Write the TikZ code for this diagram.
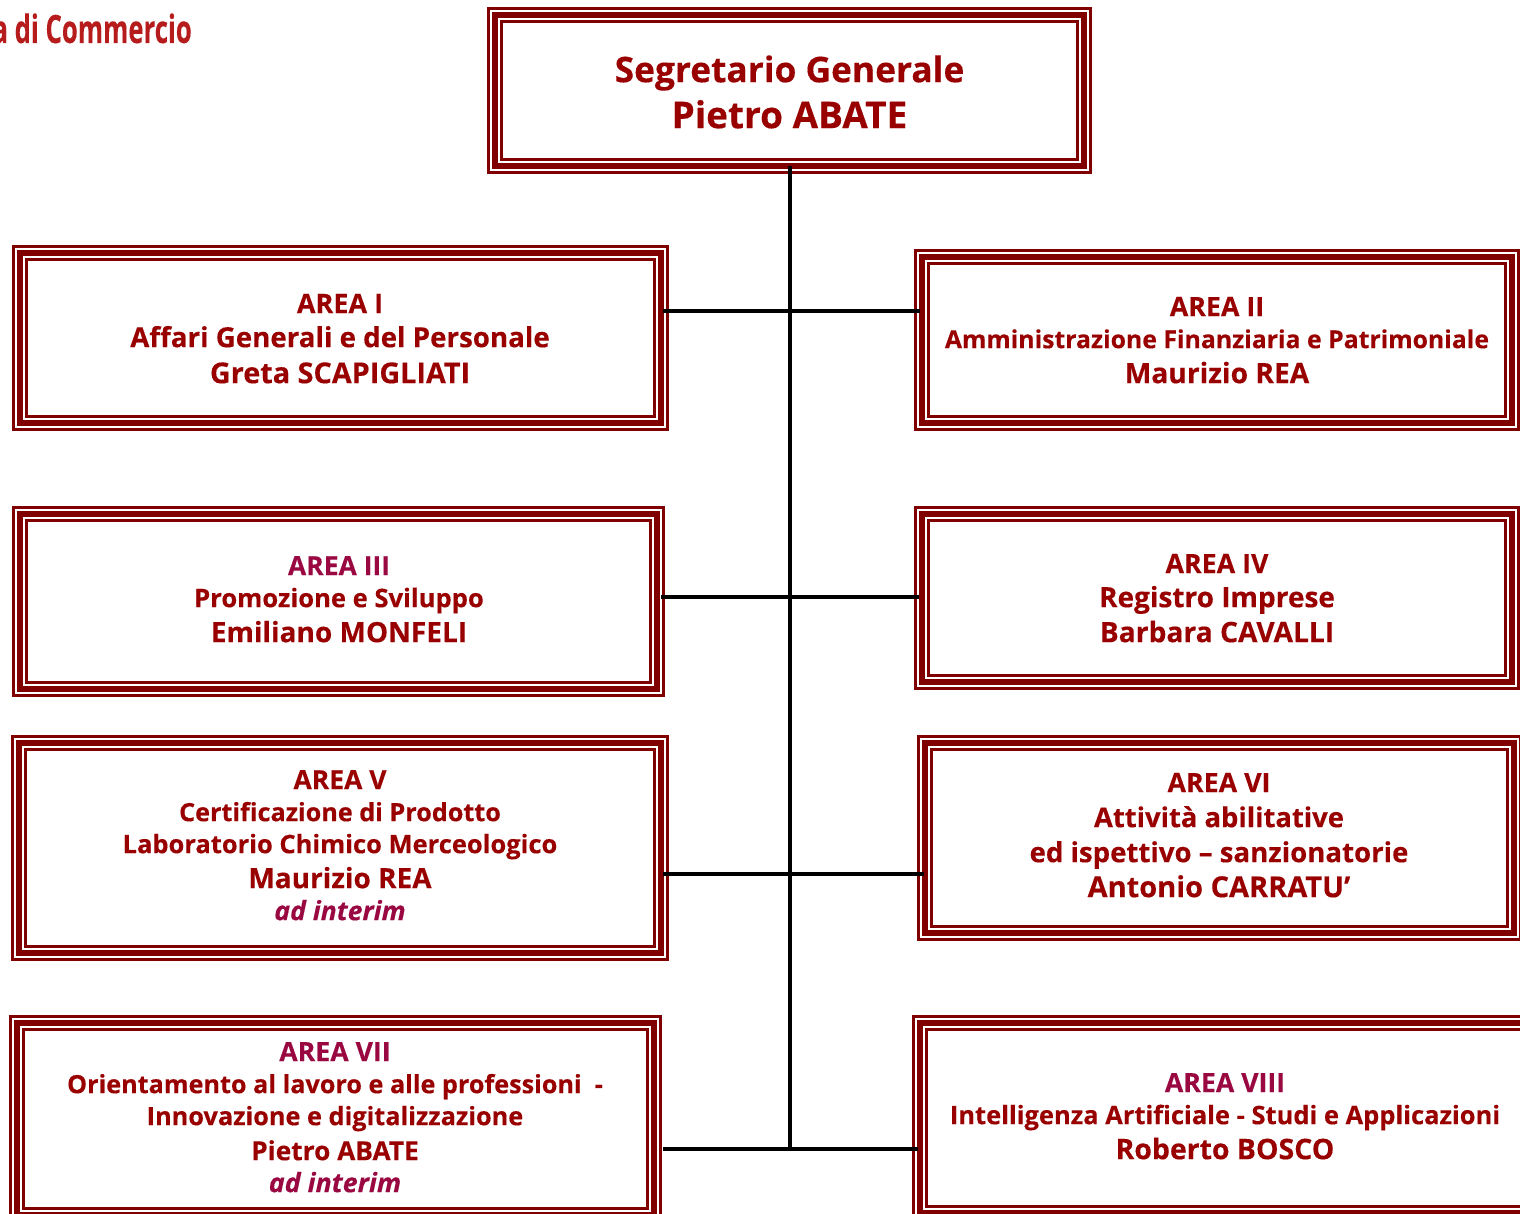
\documentclass[tikz,border=0pt]{standalone}
\usepackage{fontspec}
\setmainfont{Open Sans}[BoldFeatures={FakeBold=0.25},BoldItalicFeatures={FakeBold=0.25}]
\definecolor{frm}{HTML}{800000}
\definecolor{ink}{HTML}{990000}
\definecolor{plum}{HTML}{990840}
\definecolor{logo}{HTML}{B71C1C}
\tikzset{
  frameshape/.style={rectangle,inner sep=0pt,outer sep=0pt},
  ringthin/.style={draw=frm,line width=2.7pt},
  ringthick/.style={draw=frm,line width=5.6pt},
  wire/.style={draw=black,line width=4pt},
  txt/.style={anchor=north,inner sep=0pt,font=\bfseries,text=ink}
}
\newcommand{\aframe}[5]{%
  \pgfmathsetmacro{\fw}{#4-#2}\pgfmathsetmacro{\fh}{#5-#3}
  \pgfmathsetmacro{\fx}{(#2+#4)/2}\pgfmathsetmacro{\fy}{(#3+#5)/2}
  \node[frameshape,minimum width=\fw pt,minimum height=\fh pt] (#1) at (\fx,\fy) {};
  \draw[ringthin] ([shift={(1.35pt,-1.35pt)}]#1.north west) rectangle ([shift={(-1.35pt,1.35pt)}]#1.south east);
  \draw[ringthick] ([shift={(7.75pt,-7.75pt)}]#1.north west) rectangle ([shift={(-7.75pt,7.75pt)}]#1.south east);
  \draw[ringthin] ([shift={(14.25pt,-14.25pt)}]#1.north west) rectangle ([shift={(-14.25pt,14.25pt)}]#1.south east);
}
% one printed line: its baseline lies #1 below the previous one
\newcommand{\tl}[3]{\vskip #1pt\hbox to \hsize{\hss\smash{\fontsize{#2}{#2}\selectfont #3}\hss}}
\newcommand{\stack}[1]{\vbox{\hsize=640pt\offinterlineskip #1}}
\begin{document}
\begin{tikzpicture}[x=1pt,y=-1pt]
\useasboundingbox (0,0) rectangle (1520,1214);
\clip (0,0) rectangle (1520,1214);
\node[anchor=base east,inner sep=0pt,text=logo,font=\bfseries] (logotext) at (192,43) {\scalebox{0.66}[1]{\fontsize{39}{39}\selectfont Camera di Commercio}};
\aframe{top}{487}{7}{1092}{174}
\aframe{a1}{12}{245}{669}{431}
\aframe{a2}{914}{249}{1520}{431}
\aframe{a3}{12}{506}{665}{697}
\aframe{a4}{914}{506}{1520}{690}
\aframe{a5}{11}{735}{669}{961}
\aframe{a6}{917}{735}{1522}{941}
\aframe{a7}{9}{1015}{662}{1223}
\aframe{a8}{912}{1015}{1538}{1221}
\coordinate (j1) at (789.5,311);
\coordinate (j2) at (789.5,597);
\coordinate (j3) at (789.5,874);
\coordinate (j4) at (789.5,1149);
\draw[wire] ([yshift=8pt]top.south) -- (j4);
\draw[wire] ([xshift=-6pt]a1.east |- j1) -- (j1) -- ([xshift=6pt]a2.west |- j1);
\draw[wire] ([xshift=-4pt]a3.east |- j2) -- (j2) -- ([xshift=5pt]a4.west |- j2);
\draw[wire] ([xshift=-6pt]a5.east |- j3) -- (j3) -- ([xshift=7pt]a6.west |- j3);
\draw[wire] ([xshift=1pt]a7.east |- j4) -- (j4) -- ([xshift=6pt]a8.west |- j4);
\node[txt] (t0) at (789.5,42) {\stack{\tl{40}{35.3}{Segretario Generale}\tl{46}{37}{Pietro ABATE}}};
\node[txt] (t1) at (340,273) {\stack{\tl{40}{27}{AREA I}\tl{34}{27.7}{Affari Generali e del Personale}\tl{36}{28.8}{Greta SCAPIGLIATI}}};
\node[txt] (t2) at (1217,276) {\stack{\tl{40}{26.8}{AREA II}\tl{32}{24.8}{Amministrazione Finanziaria e Patrimoniale}\tl{35}{28.2}{Maurizio REA}}};
\node[txt] (t3) at (339,535) {\stack{\tl{40}{26.5}{\textcolor{plum}{AREA III}}\tl{32}{25.6}{Promozione e Sviluppo}\tl{35}{28}{Emiliano MONFELI}}};
\node[txt] (t4) at (1217,533) {\stack{\tl{40}{26.8}{AREA IV}\tl{34}{28}{Registro Imprese}\tl{35}{28.2}{Barbara CAVALLI}}};
\node[txt] (t5) at (340,749) {\stack{\tl{40}{26.5}{AREA V}\tl{32}{25.2}{Certificazione di Prodotto}\tl{32}{25.5}{Laboratorio Chimico Merceologico}\tl{35}{28}{Maurizio REA}\tl{32}{26.6}{\textcolor{plum}{\itshape ad interim}}}};
\node[txt] (t6) at (1219,752) {\stack{\tl{40}{26.8}{AREA VI}\tl{35}{27.4}{Attività abilitative}\tl{35}{27.6}{ed ispettivo – sanzionatorie}\tl{35}{29}{Antonio CARRATU’}}};
\node[txt] (t7) at (335,1021) {\stack{\tl{40}{26.7}{\textcolor{plum}{AREA VII}}\tl{32}{25.2}{Orientamento al lavoro e alle professioni~~-}\tl{32}{25.3}{Innovazione e digitalizzazione}\tl{35}{26.3}{Pietro ABATE}\tl{32}{26.8}{\textcolor{plum}{\itshape ad interim}}}};
\node[txt] (t8) at (1225,1052) {\stack{\tl{40}{26.7}{\textcolor{plum}{AREA VIII}}\tl{32}{25.5}{Intelligenza Artificiale - Studi e Applicazioni}\tl{35}{28.4}{Roberto BOSCO}}};
\end{tikzpicture}
\end{document}
